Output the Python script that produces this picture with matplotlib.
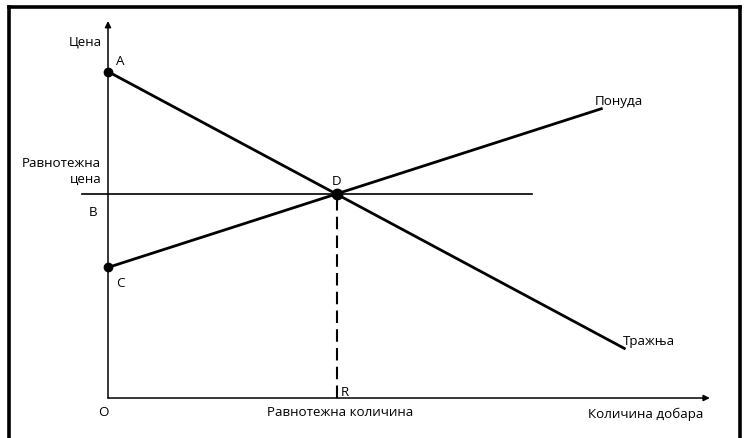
import matplotlib
matplotlib.use("Agg")
import matplotlib.pyplot as plt
from matplotlib.lines import Line2D

plt.rcParams['font.family'] = ['Liberation Sans Narrow', 'Open Sans', 'DejaVu Sans']

# market model (quantity, price)
eq_qty, eq_price = 5.0, 5.0
demand_x = [0.0, 11.3]
demand_y = [8.0, 1.2]
supply_x = [0.0, 10.8]
supply_y = [3.2, 7.1]
price_line_x = [-0.57, 9.26]

points = {'A': (0.0, 8.0), 'C': (0.0, 3.2), 'D': (eq_qty, eq_price)}

fig = plt.figure(figsize=(7.45, 4.39), dpi=100)
ax = fig.add_axes([0, 0, 1, 1])
ax.set_xlim(-2.358, 13.908)
ax.set_ylim(-0.980, 9.779)
ax.axis('off')

# frame around the picture (no bottom edge)
for xs, ys in [([8.5, 8.5], [0, 431.5]), ([8.5, 740], [431.5, 431.5]), ([740, 740], [431.5, 0])]:
    fig.add_artist(Line2D([v / 745 for v in xs], [v / 439 for v in ys],
                          transform=fig.transFigure, color='black', lw=2.6))

# axes with arrows
ax.annotate('', xy=(0, 9.24), xytext=(0, 0),
            arrowprops=dict(arrowstyle='-|>', color='black', lw=1.1,
                            mutation_scale=9, shrinkA=0, shrinkB=0))
ax.annotate('', xy=(13.14, 0), xytext=(0, 0),
            arrowprops=dict(arrowstyle='-|>', color='black', lw=1.1,
                            mutation_scale=9, shrinkA=0, shrinkB=0))

ax.plot(demand_x, demand_y, color='black', lw=2.0, solid_capstyle='butt')
ax.plot(supply_x, supply_y, color='black', lw=2.0, solid_capstyle='butt')
ax.plot(price_line_x, [eq_price, eq_price], color='black', lw=1.2)
ax.plot([eq_qty, eq_qty], [0, eq_price], color='black', lw=1.5,
        linestyle=(0, (6, 3)))

ax.plot(*points['A'], 'o', color='black', ms=6)
ax.plot(*points['C'], 'o', color='black', ms=6)
ax.plot(*points['D'], 'o', color='black', ms=7.5)

fs = 9.6
ax.text(-0.13, 8.75, 'Цена', ha='right', va='center', fontsize=fs)
ax.text(0.26, 8.26, 'A', ha='center', va='center', fontsize=fs)
ax.text(-0.15, 5.58, 'Равнотежна\nцена', ha='right', va='center',
        multialignment='right', fontsize=fs, linespacing=1.35)
ax.text(-0.33, 4.58, 'B', ha='center', va='center', fontsize=fs)
ax.text(0.26, 2.84, 'C', ha='center', va='center', fontsize=fs)
ax.text(5.0, 5.34, 'D', ha='center', va='center', fontsize=fs)
ax.text(-0.11, -0.34, 'O', ha='center', va='center', fontsize=fs)
ax.text(5.17, 0.15, 'R', ha='center', va='center', fontsize=fs)
ax.text(5.07, -0.34, 'Равнотежна количина', ha='center', va='center', fontsize=fs)
ax.text(11.75, -0.37, 'Количина добара', ha='center', va='center', fontsize=fs)
ax.text(10.63, 7.30, 'Понуда', ha='left', va='center', fontsize=fs)
ax.text(11.24, 1.40, 'Тражња', ha='left', va='center', fontsize=fs)

fig.savefig('out.png', dpi=100)
